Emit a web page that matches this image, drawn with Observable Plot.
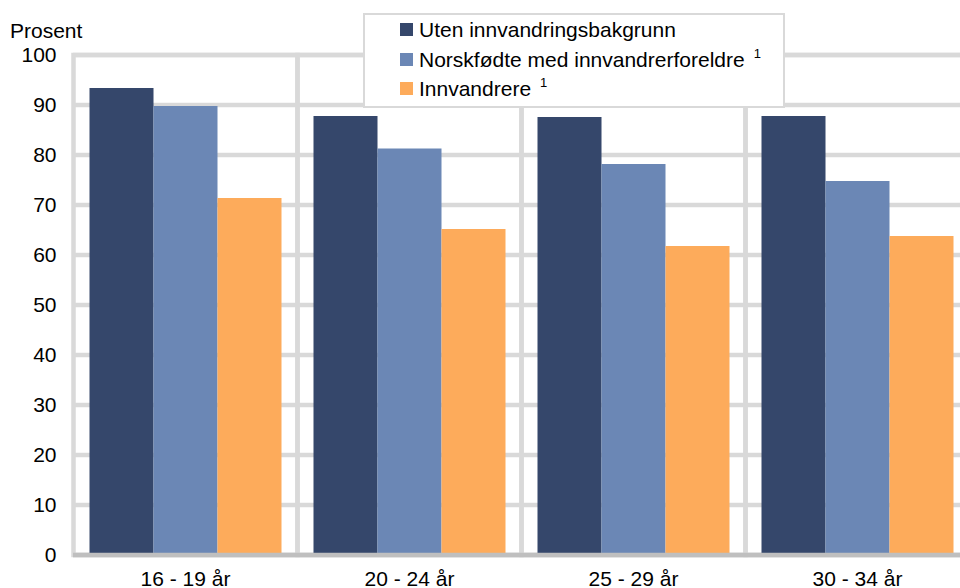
<!DOCTYPE html>
<html>
<head>
<meta charset="utf-8">
<script src="https://cdn.jsdelivr.net/npm/d3@7"></script>
<script src="https://cdn.jsdelivr.net/npm/@observablehq/plot@0.6"></script>
<style>
  body { margin: 0; background: #fff; overflow: hidden; font-family: "Liberation Sans", Arial, sans-serif; }
  #wrap { position: relative; width: 960px; height: 588px; overflow: hidden; background: #fff; }
  #chart { position: absolute; left: 0; top: 0; width: 969px; }
  #chart svg { max-width: none !important; }
  #ylabel { position: absolute; left: 10px; top: 19px; font-size: 21px; line-height: 24px; color: #000; }
  #legend { position: absolute; left: 363px; top: 13px; width: 422px; height: 95px; box-sizing: border-box;
            border: 2px solid #d9d9d9; background: #fff; padding-left: 35px; }
  .row { display: flex; align-items: center; height: 29.5px; font-size: 21px; line-height: 29.5px; color: #000; white-space: nowrap; }
  .sw { width: 13px; height: 13px; margin-right: 6px; flex: none; }
  .fn { font-size: 13px; margin-left: 9px; position: relative; top: -6px; }
</style>
</head>
<body>
<div id="wrap">
  <div id="chart"></div>
  <div id="ylabel">Prosent</div>
  <div id="legend"></div>
</div>
<script>
const categories = ["16 - 19 år", "20 - 24 år", "25 - 29 år", "30 - 34 år"];
const seriesNames = ["Uten innvandringsbakgrunn", "Norskfødte med innvandrerforeldre", "Innvandrere"];
const seriesFootnotes = ["", "1", "1"];
const utenValues = [93.3, 87.7, 87.5, 87.7];
const norskfodteValues = [89.7, 81.2, 78.1, 74.7];
const innvandrereValues = [71.3, 65.1, 61.7, 63.7];
const yTicks = [0, 10, 20, 30, 40, 50, 60, 70, 80, 90, 100];
const seriesColors = ["#35476b", "#6b87b5", "#fdab5b"];

const seriesValues = [utenValues, norskfodteValues, innvandrereValues];
const data = [];
categories.forEach((c, i) => {
  seriesNames.forEach((s, j) => {
    data.push({category: c, series: s, value: seriesValues[j][i]});
  });
});

const plot = Plot.plot({
  width: 969,
  height: 588,
  marginLeft: 72.5,
  marginRight: 0,
  marginTop: 54.5,
  marginBottom: 33.5,
  style: {fontFamily: "'Liberation Sans', Arial, sans-serif", fontSize: "21px", color: "#000", background: "transparent", maxWidth: "none"},
  fx: {domain: categories, padding: 0, label: null, axis: "bottom", tickSize: 0, tickPadding: 16},
  x: {domain: seriesNames, paddingInner: 0, paddingOuter: 0.25, axis: null},
  y: {domain: [0, 100], ticks: yTicks, label: null, tickSize: 0, tickPadding: 17},
  color: {domain: seriesNames, range: seriesColors},
  marks: [
    Plot.ruleY(yTicks, {stroke: "#d9d9d9", strokeWidth: 4.5}),
    Plot.frame({stroke: "#d9d9d9", strokeWidth: 4.5}),
    Plot.barY(data, {fx: "category", x: "series", y: "value", fill: "series"}),
    Plot.ruleY([0], {stroke: "#bfbfbf", strokeWidth: 4.5})
  ]
});
document.getElementById("chart").appendChild(plot);

const legend = document.getElementById("legend");
seriesNames.forEach((s, j) => {
  const row = document.createElement("div");
  row.className = "row";
  const sw = document.createElement("span");
  sw.className = "sw";
  sw.style.background = seriesColors[j];
  row.appendChild(sw);
  const t = document.createElement("span");
  t.textContent = s;
  row.appendChild(t);
  if (seriesFootnotes[j]) {
    const f = document.createElement("span");
    f.className = "fn";
    f.textContent = seriesFootnotes[j];
    row.appendChild(f);
  }
  legend.appendChild(row);
});
</script>
</body>
</html>
